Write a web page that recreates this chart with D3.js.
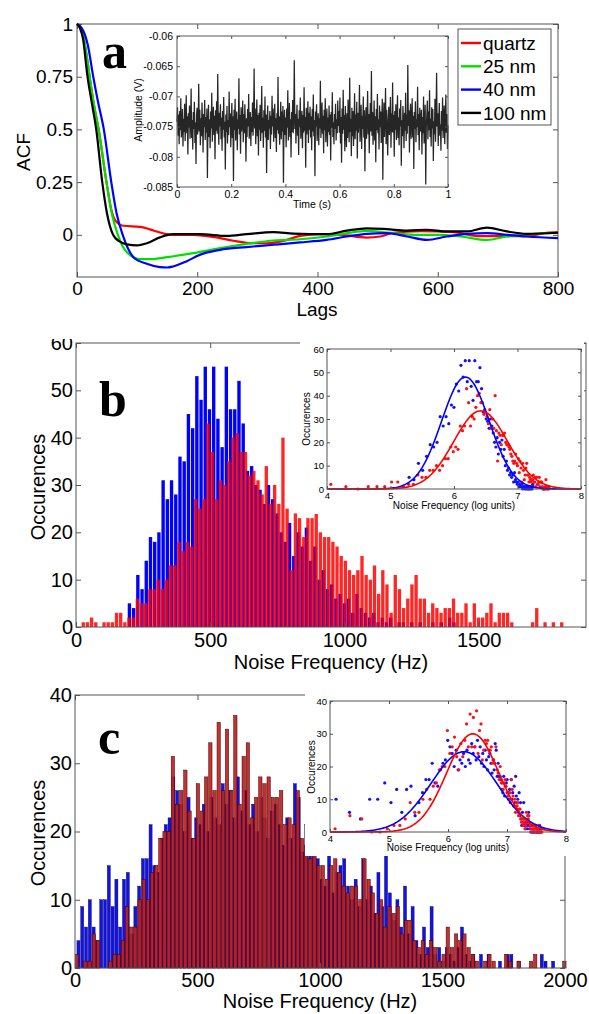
<!DOCTYPE html>
<html>
<head>
<meta charset="utf-8">
<script src="https://d3js.org/d3.v7.min.js"></script>
<style>
  body { margin: 0; background: #fff; }
  svg { display: block; }
</style>
</head>
<body>
<script>
// ---- panel a: autocorrelation curves [lag, acf] ----
var acfQuartz = [[0,1],[5,0.985],[10,0.95],[15,0.87],[21,0.75],[28,0.62],[36,0.5],[49,0.25],[57,0.12],[63,0.071],[77,0.043],[105,0.038],[121,0.026],[138,0.011],[160,0],[193,0],[232,-0.012],[260,-0.028],[293,-0.04],[316,-0.04],[349,-0.024],[371,-0.005],[404,0.003],[440,0],[482,-0.013],[504,-0.008],[526,0.01],[571,0.018],[626,0.013],[670,-0.006],[704,-0.006],[748,-0.006],[781,0.01],[800,0.013]];
var acf25 = [[0,1],[5,0.985],[10,0.95],[15,0.87],[21,0.75],[28,0.62],[36,0.5],[49,0.25],[58,0.1],[68,0],[83,-0.083],[105,-0.115],[122,-0.115],[150,-0.106],[193,-0.087],[238,-0.063],[282,-0.043],[327,-0.027],[371,-0.021],[415,-0.008],[449,0.008],[482,0.019],[515,0.011],[560,0],[604,0],[638,-0.008],[682,-0.024],[715,-0.008],[760,0.005],[800,0.01]];
var acf40 = [[0,1],[5,0.99],[10,0.97],[18,0.9],[27,0.75],[35,0.63],[44.6,0.5],[57,0.25],[66,0.1],[76,0],[94,-0.106],[116,-0.137],[138,-0.153],[150,-0.155],[160,-0.15],[182,-0.126],[204,-0.095],[238,-0.071],[282,-0.058],[327,-0.047],[371,-0.036],[415,-0.024],[449,-0.008],[482,0.005],[515,0.008],[549,-0.008],[582,-0.024],[615,-0.008],[649,0.005],[682,0.008],[715,0],[748,-0.008],[800,-0.016]];
var acf100 = [[0,1],[5,0.98],[10,0.93],[17.5,0.75],[25,0.62],[32,0.5],[42,0.25],[50,0.1],[60,0],[70,-0.03],[83,-0.045],[100,-0.05],[116,-0.04],[138,-0.012],[160,0.003],[204,0.003],[249,-0.005],[282,0.003],[327,0.013],[360,0.006],[415,0.003],[449,0.02],[482,0.031],[515,0.027],[549,0.02],[582,0.024],[615,0.016],[649,0.016],[682,0.034],[715,0.016],[748,0.005],[800,0.01]];
var legendNames = ["quartz", "25 nm", "40 nm", "100 nm"];

// ---- panel a inset: amplitude trace (mV), evenly sampled over 1 s ----
var noiseMv = [
-74.2,-71.8,-76.5,-73.0,-77.9,-72.4,-75.6,-70.3,-76.8,-74.9,
-72.1,-78.3,-73.7,-75.9,-71.2,-77.4,-74.0,-69.8,-76.1,-73.3,
-79.6,-72.8,-75.2,-71.5,-77.0,-74.6,-68.7,-76.9,-73.9,-78.8,
-72.6,-75.4,-70.9,-77.7,-74.3,-81.2,-73.1,-71.9,-76.3,-74.8,
-67.9,-75.8,-72.2,-78.1,-73.6,-76.6,-71.0,-74.4,-79.3,-72.9,
-75.1,-70.6,-77.2,-73.4,-76.0,-72.0,-83.5,-74.7,-71.4,-76.7,
-73.8,-78.6,-72.5,-75.3,-69.4,-77.5,-74.1,-71.7,-76.4,-73.2,
-80.4,-72.3,-75.7,-70.8,-76.2,-66.3,-74.5,-78.0,-72.7,-75.0,
-71.3,-77.1,-73.5,-79.0,-72.4,-75.5,-70.1,-76.8,-74.2,-82.1,
-73.0,-75.9,-71.6,-77.8,-73.9,-76.4,-69.2,-75.1,-72.8,-78.4,
-74.6,-71.1,-76.9,-73.3,-84.0,-72.2,-75.6,-70.4,-77.3,-74.0,
-72.5,-78.9,-73.8,-75.4,-67.0,-76.3,-73.1,-79.5,-71.8,-75.8,
-74.4,-70.7,-77.6,-72.9,-76.1,-71.3,-75.2,-80.8,-73.6,-76.7,
-72.1,-75.0,-69.6,-77.0,-74.8,-72.6,-78.2,-73.4,-75.9,-71.0,
-76.5,-73.7,-65.4,-75.3,-72.0,-77.9,-74.2,-70.5,-76.6,-73.1,
-79.8,-72.7,-75.5,-71.4,-77.4,-74.9,-68.3,-76.0,-73.5,-78.5,
-72.3,-75.7,-70.0,-76.8,-73.0,-82.7,-74.6,-71.5,-77.2,-73.9,
-75.3,-72.4,-78.7,-73.2,-76.3,-69.9,-75.0,-72.0,-77.5,-74.3,
-71.2,-76.9,-73.6,-79.2,-72.8,-75.6,-66.8,-76.2,-73.3,-78.0,
-74.7,-70.9,-77.1,-72.5,-75.8,-71.6,-84.3,-74.1,-72.2,-76.4,
-73.5,-78.4,-72.0,-75.2,-69.0,-77.3,-74.5,-71.1,-76.7,-73.8,
-80.1,-72.6,-75.9,-70.6,-76.1,-73.0,-64.0,-75.4,-72.9,-77.8,
-74.0,-71.4,-76.5,-73.7,-79.7,-72.3,-75.1,-70.2,-77.0,-74.8,
-72.4,-78.6,-73.1,-76.0,-68.5,-75.7,-73.4,-81.8,-71.9,-76.3,
-74.2,-70.8,-77.7,-72.7,-75.5,-71.7,-76.8,-73.3,-78.9,-72.1,
-75.8,-69.7,-76.6,-73.9,-83.2,-72.5,-75.0,-71.3,-77.4,-74.4,
-72.8,-78.1,-73.6,-75.3,-67.4,-76.9,-74.1,-71.0,-76.2,-73.2,
-79.4,-72.2,-75.6,-70.3,-77.6,-74.7,-72.0,-78.3,-73.5,-75.9,
-71.5,-76.4,-73.0,-80.6,-72.6,-75.2,-69.3,-76.7,-74.3,-77.9,
-72.9,-75.4,-71.2,-77.3,-73.8,-76.1,-70.7,-74.9,-72.4,-76.0,
-70.2,-77.8,-73.4,-81.0,-72.0,-76.2,-68.9,-75.5,-73.1,-79.1,
-71.6,-75.2,-78.4,-72.8,-76.9,-70.5,-74.0,-77.6,-66.9,-75.9,
-73.7,-79.9,-71.9,-76.6,-72.4,-78.2,-74.9,-69.5,-77.1,-73.0,
-75.7,-70.9,-80.3,-72.7,-76.0,-73.9,-68.1,-77.5,-74.4,-71.4,
-78.7,-73.2,-75.4,-70.0,-76.8,-72.3,-82.4,-74.6,-71.8,-77.0,
-73.6,-69.1,-76.3,-72.9,-79.4,-74.2,-71.1,-75.8,-65.8,-76.5,
-72.6,-78.0,-74.8,-70.7,-77.3,-73.3,-80.9,-72.1,-75.6,-69.6,
-76.1,-73.8,-78.8,-71.5,-75.1,-72.5,-77.7,-74.0,-70.4,-83.8,
-74.5,-71.0,-76.7,-73.4,-68.6,-77.9,-72.2,-75.3,-79.8,-73.7,
-71.7,-76.4,-74.1,-70.1,-78.5,-72.8,-75.9,-67.7,-76.0,-73.1,
-80.0,-72.4,-75.5,-71.3,-77.2,-74.7,-69.8,-76.9,-73.5,-78.1,
-72.0,-75.0,-70.6,-81.5,-73.9,-76.6,-71.6,-74.3,-78.6,-72.7,
-75.7,-69.4,-77.4,-73.0,-76.2,-64.8,-74.9,-72.3,-79.3,-73.6,
-71.2,-77.0,-74.2,-70.3,-76.8,-73.2,-82.0,-72.6,-75.4,-70.8,
-77.6,-73.8,-75.1,-68.4,-76.4,-72.9,-78.9,-71.9,-75.8,-74.0,
-72.2,-79.6,-73.4,-76.1,-70.0,-77.8,-74.5,-71.4,-84.6,-75.2,
-73.1,-70.7,-77.1,-72.5,-75.6,-69.0,-76.7,-73.7,-78.3,-71.8,
-75.3,-72.1,-80.7,-74.1,-76.3,-70.4,-77.5,-73.3,-66.1,-75.0,
-72.8,-78.2,-73.9,-71.1,-76.5,-74.6,-79.0,-72.4,-75.7,-70.2,
-76.9,-73.5,-71.5,-77.9,-74.3,-69.7,-76.0,-72.9,-78.7,-74.8];

// ---- panel b: histograms (first bin centre Hz, bin width Hz, counts) ----
var bRedStart = 27, bRedWidth = 15.5;
var bRed = [1,1,2,1,0,1,1,1,3,3, 1,2,2,6,5,5,8,8,10,8, 10,13,13,18,16,18,17,27,25,27,
  43,37,27,31,30,35,40,41,37,37, 32,33,31,28,34,26,30,26,40,25, 12,24,23,19,23,23,24,20,19,19,
  18,17,15,14,12,11,12,15,11,10, 13,7,12,9,3,11,8,4,6,9, 11,6,6,3,5,4,3,4,4,6,
  3,3,5,1,5,2,2,3,5,1, 3,3,3,1,0,0,0,0,1,4, 0,1,0,1,0,1];
var bBlueStart = 199, bBlueWidth = 15.7;
var bBlue = [5,4,11,8,14,19,18,20,31,27, 31,28,36,35,45,42,53,48,55,46, 55,44,38,55,46,46,52,43,33,34,
  30,29,26,30,27,24,20,18,22,15, 20,17,21,14,17,10,12,8,9,6, 7,5,6,3,7,4,3,2,3,1,
  2,1,2,0,1,1,0,1,0,1, 0,0,1,0,1,0,2,1];
var fitBBlue = [48, 6.18, 0.375];   // amplitude, mean, sigma (log units)
var fitBRed = [33.5, 6.42, 0.425];

// ---- panel c ----
var cBlueStart = 14, cBlueWidth = 15.5;
var cBlue = [4,9,6,10,6,4,10,10,15,9, 13,6,13,14,5,9,12,16,16,21, 15,14,19,21,22,28,26,24,20,25,
  19,22,21,24,20,25,22,21,27,24, 26,22,28,23,26,21,24,20,25,22, 19,23,24,21,18,22,19,27,25,17,
  21,17,17,16,13,12,17,11,14,15, 16,12,10,13,9,16,10,12,8,14, 9,17,11,7,10,6,12,5,9,4,
  2,6,3,9,2,3,1,3,2,1, 3,6,2,1,2,0,2,0,2,0, 0,1,0,2,2,0,1,0,0,0, 0,0,2,1,0,1];
var cRedStart = 8.5, cRedWidth = 17;
var cRed = [2,0,1,1,5,4,0,0,1,2, 2,4,9,6,6,10,13,10,14,15, 19,20,20,31,24,26,29,23,19,27,
  23,28,33,26,36,26,35,26,37,24, 31,33,22,25,28,27,28,25,25,26, 21,22,21,26,19,18,16,20,15,15,
  13,15,16,14,12,11,12,12,10,16, 13,11,8,10,6,9,8,9,5,7, 7,4,3,4,2,4,3,1,2,6,
  3,5,4,5,3,2,1,0,1,2, 1,0,0,2,1,0,1,0,0,1, 2,0,0,0,0,0,0,1];
var fitCBlue = [24.5, 6.27, 0.556];
var fitCRed = [30, 6.42, 0.44];

var FONT = "Arial, 'Liberation Sans', sans-serif";
var SERIF = "'Liberation Serif', 'Times New Roman', serif";
var FRAME = "#555";

var svg = d3.select("body").append("svg")
    .attr("width", 589).attr("height", 1014)
    .style("background", "#fff");

function styleAxis(sel, fs) {
  sel.attr("font-family", FONT).attr("font-size", fs);
  sel.select(".domain").remove();
  sel.selectAll("line").attr("stroke", FRAME);
  sel.selectAll("text").attr("fill", "#000");
}

// MATLAB-like box with inward ticks on all four sides
function frame(g, x, y, o) {
  var xr = x.range(), yr = y.range();
  g.append("g").attr("transform", "translate(0," + yr[0] + ")")
    .call(d3.axisBottom(x).tickValues(o.xt).tickSize(-o.tl).tickPadding(o.xpad).tickFormat(o.xf || String))
    .call(styleAxis, o.fs);
  var left = g.append("g").attr("transform", "translate(" + xr[0] + ",0)")
    .call(d3.axisLeft(y).tickValues(o.yt).tickSize(-o.tl).tickPadding(o.ypad).tickFormat(o.yf || String))
    .call(styleAxis, o.fs);
  g.append("g").attr("transform", "translate(0," + yr[1] + ")")
    .call(d3.axisTop(x).tickValues(o.xt).tickSize(-o.tl).tickFormat(""))
    .call(styleAxis, o.fs);
  g.append("g").attr("transform", "translate(" + xr[1] + ",0)")
    .call(d3.axisRight(y).tickValues(o.yt).tickSize(-o.tl).tickFormat(""))
    .call(styleAxis, o.fs);
  g.append("rect")
    .attr("x", xr[0]).attr("y", yr[1])
    .attr("width", xr[1] - xr[0]).attr("height", yr[0] - yr[1])
    .attr("fill", "none").attr("stroke", FRAME).attr("stroke-width", 1);
  return left;
}

function label(g, text, x, y, fs, rotate, family) {
  var t = g.append("text")
    .attr("font-family", family || FONT).attr("font-size", fs)
    .attr("text-anchor", "middle").attr("fill", "#000").text(text);
  if (rotate) t.attr("transform", "translate(" + x + "," + y + ") rotate(-90)");
  else t.attr("x", x).attr("y", y);
  return t;
}

function hist(counts, start, width) {
  return counts.map(function (c, i) { return { f: start + i * width, c: c, w: width }; });
}

function drawBars(g, x, y, data, fill, extra) {
  var sel = g.append("g").selectAll("rect")
    .data(data.filter(function (d) { return d.c > 0; }))
    .join("rect")
    .attr("x", function (d) { return x(d.f - 0.4 * d.w); })
    .attr("width", function (d) { return x(d.f + 0.4 * d.w) - x(d.f - 0.4 * d.w); })
    .attr("y", function (d) { return y(d.c); })
    .attr("height", function (d) { return y(0) - y(d.c); })
    .attr("fill", fill);
  if (extra) extra(sel);
}

function inset(g, bg, xr, yr, yMax, yStep, blueData, redData, fitBlue, fitRed, lbl) {
  g.append("rect").attr("x", bg[0]).attr("y", bg[1]).attr("width", bg[2]).attr("height", bg[3]).attr("fill", "#fff");
  var x = d3.scaleLinear().domain([4, 8]).range(xr);
  var y = d3.scaleLinear().domain([0, yMax]).range(yr);
  var pts = function (data) {
    return data.filter(function (d) { var l = Math.log(d.f); return l >= 4 && l <= 8; });
  };
  var dots = function (data, col) {
    g.append("g").selectAll("circle").data(pts(data)).join("circle")
      .attr("cx", function (d) { return x(Math.log(d.f)); })
      .attr("cy", function (d) { return y(d.c); })
      .attr("r", 1.6).attr("fill", col);
  };
  dots(blueData, "#1010ff");
  dots(redData, "#ff1010");
  var gauss = function (p) {
    return d3.range(4, 8.0001, 0.02).map(function (v) {
      return [v, p[0] * Math.exp(-Math.pow(v - p[1], 2) / (2 * p[2] * p[2]))];
    });
  };
  var line = d3.line().x(function (d) { return x(d[0]); }).y(function (d) { return y(d[1]); });
  g.append("path").attr("d", line(gauss(fitBlue))).attr("fill", "none").attr("stroke", "#0000ff").attr("stroke-width", 1.6);
  g.append("path").attr("d", line(gauss(fitRed))).attr("fill", "none").attr("stroke", "#ff0000").attr("stroke-width", 1.6);
  frame(g, x, y, { xt: [4, 5, 6, 7, 8], yt: d3.range(0, yMax + 1, yStep), tl: 3, xpad: 3, ypad: 3, fs: 9.5 });
  label(g, "Noise Frequency (log units)", lbl[0], lbl[1], 10);
  label(g, "Occurences", lbl[2], lbl[3], 10, true);
}

// ================= panel a =================
var ga = svg.append("g");
var xA = d3.scaleLinear().domain([0, 800]).range([77, 558]);
var yA = d3.scaleLinear().domain([-0.2, 1]).range([277, 24]);
frame(ga, xA, yA, {
  xt: [0, 200, 400, 600, 800], yt: [0, 0.25, 0.5, 0.75, 1], tl: 5, xpad: 5, ypad: 4, fs: 19
});
var acfLine = d3.line().curve(d3.curveMonotoneX)
  .x(function (d) { return xA(d[0]); }).y(function (d) { return yA(d[1]); });
var acfSeries = [[acfQuartz, "#ff0000"], [acf25, "#00e000"], [acf40, "#0000ff"], [acf100, "#000000"]];
acfSeries.forEach(function (s) {
  ga.append("path").attr("d", acfLine(s[0])).attr("fill", "none")
    .attr("stroke", s[1]).attr("stroke-width", 2.2);
});
label(ga, "Lags", 317, 316, 19);
label(ga, "ACF", 30, 152, 19, true);

// inset a
ga.append("rect").attr("x", 122).attr("y", 30).attr("width", 330).attr("height", 183).attr("fill", "#fff");
var xN = d3.scaleLinear().domain([0, 1]).range([177, 448]);
var yN = d3.scaleLinear().domain([-0.085, -0.06]).range([187, 36]);
var noiseLine = d3.line()
  .x(function (d, i) { return xN(i / (noiseMv.length - 1)); })
  .y(function (d) { return yN(d / 1000); });
ga.append("path").attr("d", noiseLine(noiseMv)).attr("fill", "none")
  .attr("stroke", "#000").attr("stroke-width", 1.25).attr("stroke-opacity", 0.85)
  .attr("stroke-linejoin", "bevel");
frame(ga, xN, yN, {
  xt: [0, 0.2, 0.4, 0.6, 0.8, 1], yt: [-0.085, -0.08, -0.075, -0.07, -0.065, -0.06],
  tl: 3, xpad: 4, ypad: 4, fs: 10.5
});
label(ga, "Time (s)", 312, 208, 10.5);
label(ga, "Amplitude (V)", 142, 110, 10.5, true);

// legend
var lg = ga.append("g");
lg.append("rect").attr("x", 458).attr("y", 29).attr("width", 93).attr("height", 96)
  .attr("fill", "#fff").attr("stroke", FRAME).attr("stroke-width", 1);
acfSeries.forEach(function (s, i) {
  var yy = 43 + i * 23.3;
  lg.append("line").attr("x1", 461).attr("x2", 481).attr("y1", yy).attr("y2", yy)
    .attr("stroke", s[1]).attr("stroke-width", 2.4);
  lg.append("text").attr("x", 483).attr("y", yy).attr("dy", "0.35em")
    .attr("font-family", FONT).attr("font-size", 19).attr("fill", "#000").text(legendNames[i]);
});
ga.append("text").attr("x", 102).attr("y", 68).attr("font-family", SERIF)
  .attr("font-weight", "bold").attr("font-size", 50).attr("fill", "#000").text("a");

// ================= panel b =================
var gb = svg.append("g");
var xB = d3.scaleLinear().domain([0, 1900]).range([76, 586]);
var yB = d3.scaleLinear().domain([0, 60]).range([627, 343]);
var bBlueData = hist(bBlue, bBlueStart, bBlueWidth);
var bRedData = hist(bRed, bRedStart, bRedWidth);
drawBars(gb, xB, yB, bBlueData, "#0000ff");
drawBars(gb, xB, yB, bRedData, "#ff0000", function (s) { s.attr("fill-opacity", 0.85); });
// the "60" label is cut at the top edge of this panel
svg.append("clipPath").attr("id", "clipB").append("rect")
  .attr("x", -120).attr("y", 339).attr("width", 800).attr("height", 340);
var leftB = frame(gb, xB, yB, {
  xt: [0, 500, 1000, 1500], yt: [0, 10, 20, 30, 40, 50, 60], tl: 5, xpad: 6, ypad: 3, fs: 20
});
leftB.attr("clip-path", "url(#clipB)");
label(gb, "Noise Frequency (Hz)", 331, 669, 20);
label(gb, "Occurences", 45, 487, 20, true);
gb.append("text").attr("x", 99).attr("y", 416).attr("font-family", SERIF)
  .attr("font-weight", "bold").attr("font-size", 50).attr("fill", "#000").text("b");
inset(gb.append("g"), [300, 331, 284, 183], [327, 581], [489, 349], 60, 10,
  bBlueData, bRedData, fitBBlue, fitBRed, [454, 509, 310, 419]);

// ================= panel c =================
var gc = svg.append("g");
var xC = d3.scaleLinear().domain([0, 2000]).range([75, 565]);
var yC = d3.scaleLinear().domain([0, 40]).range([968, 695]);
var cBlueData = hist(cBlue, cBlueStart, cBlueWidth);
var cRedData = hist(cRed, cRedStart, cRedWidth);
drawBars(gc, xC, yC, cBlueData, "#1212e6", function (s) {
  s.attr("stroke", "#00005a").attr("stroke-width", 0.4);
});
drawBars(gc, xC, yC, cRedData, "#c02020", function (s) {
  s.attr("stroke", "#3a0000").attr("stroke-width", 0.5).attr("fill-opacity", 0.92);
});
frame(gc, xC, yC, {
  xt: [0, 500, 1000, 1500, 2000], yt: [0, 10, 20, 30, 40], tl: 5, xpad: 5, ypad: 3, fs: 20
});
label(gc, "Noise Frequency (Hz)", 320, 1008, 20);
label(gc, "Occurences", 45, 833, 20, true);
gc.append("text").attr("x", 98).attr("y", 754).attr("font-family", SERIF)
  .attr("font-weight", "bold").attr("font-size", 50).attr("fill", "#000").text("c");
inset(gc.append("g"), [305, 675, 264, 181], [330, 566], [832, 701], 40, 10,
  cBlueData, cRedData, fitCBlue, fitCRed, [448, 851, 315, 767]);
</script>
</body>
</html>
